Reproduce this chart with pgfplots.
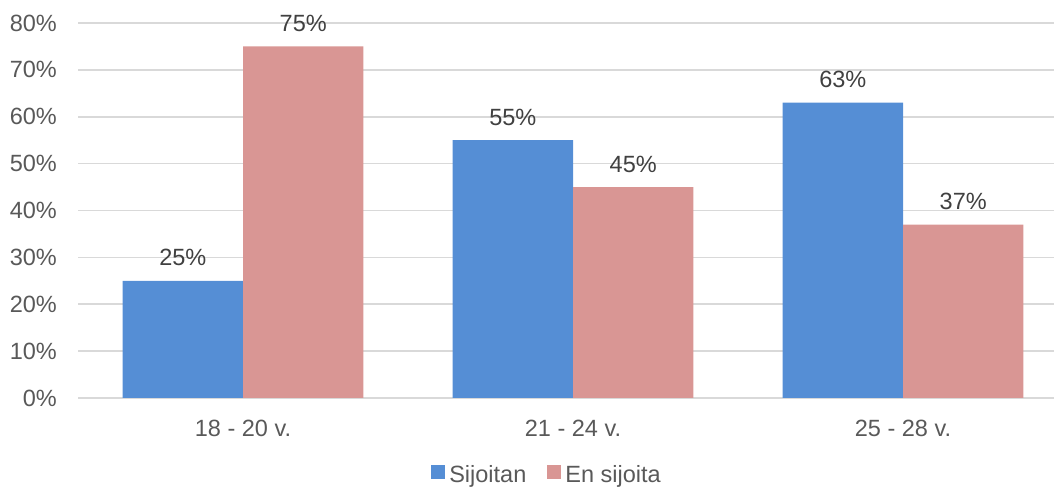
\documentclass[border=0pt]{standalone}
\usepackage{pgfplots}
\pgfplotsset{compat=1.18}
\usepackage{fontspec}
\setmainfont{Liberation Sans}

\definecolor{sblue}{HTML}{558ED5}
\definecolor{spink}{HTML}{D99694}
\definecolor{tgray}{HTML}{595959}
\definecolor{lgray}{HTML}{404040}
\definecolor{gridgray}{HTML}{D9D9D9}

\newcommand{\chartfont}{\fontsize{23.5bp}{28bp}\selectfont}

\begin{document}
\begin{tikzpicture}
\useasboundingbox (0,0) rectangle (1054bp,488bp);
\begin{axis}[
  at={(78bp,90bp)}, anchor=south west,
  scale only axis, width=990bp, height=375bp,
  xmin=-0.5, xmax=2.5, ymin=0, ymax=80,
  ybar=0pt, bar width=0.365,
  /pgf/number format/assume math mode=true,
  xtick={0,1,2},
  xticklabels={18 - 20 v., 21 - 24 v., 25 - 28 v.},
  ytick={0,10,...,80},
  yticklabel={\pgfmathprintnumber{\tick}\%},
  major tick length=0pt,
  axis lines*=left,
  y axis line style={draw=none},
  x axis line style={draw=gridgray, line width=1.6bp, -},
  ymajorgrids,
  grid style={draw=gridgray, line width=1.6bp},
  tick label style={font=\chartfont, text=tgray, inner sep=0pt},
  yticklabel style={anchor=east, xshift=-21bp},
  xticklabel style={anchor=north, yshift=-22bp},
  nodes near coords={\pgfmathprintnumber{\pgfplotspointmeta}\%},
  every node near coord/.append style={font=\chartfont, text=lgray, anchor=base, inner sep=0pt, yshift=15bp},
  legend columns=-1,
  legend style={at={(469bp,-77bp)}, anchor=center, draw=none, fill=none,
    font=\chartfont, text=tgray, inner sep=0pt,
    /tikz/every odd column/.append style={column sep=2bp},
    /tikz/every even column/.append style={column sep=19bp}},
  legend image code/.code={\fill[#1] (0bp,-0.4em) rectangle (14bp,{-0.4em+14bp});},
]
\addplot[fill=sblue, draw=none, bar shift=-0.1825] coordinates {(0,25) (1,55) (2,63)};
\addplot[fill=spink, draw=none, bar shift=0.1825] coordinates {(0,75) (1,45) (2,37)};
\legend{Sijoitan, En sijoita}
\end{axis}
\end{tikzpicture}
\end{document}
